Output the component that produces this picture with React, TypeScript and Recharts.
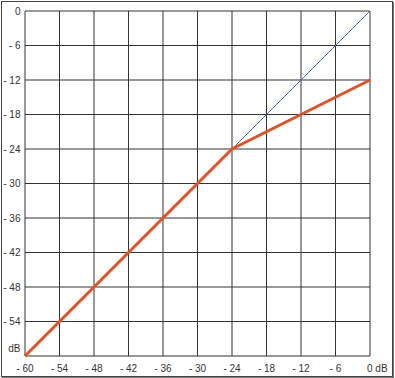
import { LineChart, Line, XAxis, YAxis, CartesianGrid } from "recharts";

// Compressor transfer curve: input level (x) vs output level (y), dB
const axisTicks = [-60, -54, -48, -42, -36, -30, -24, -18, -12, -6, 0];
const curveInput = [-60, -24, 0];
const curveOutput = [-60, -24, -12];
const unityInput = [-24, 0];
const unityOutput = [-24, 0];

const curveData = curveInput.map((x, i) => ({ x, y: curveOutput[i] }));
const unityData = unityInput.map((x, i) => ({ x, y: unityOutput[i] }));

const fmt = (v: number) => (v === 0 ? "0" : `- ${Math.abs(v)}`);

const textStyle = {
  fontFamily: "'Liberation Sans', Arial, sans-serif",
  fontSize: 10,
  fill: "#333",
};

const XTick = ({ x, y, payload }: any) => {
  const isZero = payload.value === 0;
  return (
    <text
      x={isZero ? x - 3 : x}
      y={y + 6}
      dy={3.5}
      textAnchor={isZero ? "start" : "middle"}
      {...textStyle}
    >
      {isZero ? "0 dB" : fmt(payload.value)}
    </text>
  );
};

const YTick = ({ y, payload }: any) => {
  const label = payload.value === -60 ? "dB" : fmt(payload.value);
  const shift = payload.value === -60 ? -8 : 0;
  return (
    <text x={20.5} y={y + shift} dy={3.5} textAnchor="end" {...textStyle}>
      {label}
    </text>
  );
};

export default function App() {
  return (
    <div
      style={{
        position: "absolute",
        left: 0,
        top: 0,
        width: 395,
        height: 378,
        background: "#fff",
      }}
    >
      <div
        style={{
          position: "absolute",
          left: 1,
          top: 1,
          width: 390,
          height: 374,
          border: "1px solid #444",
          boxShadow: "1px 1px 0 #777",
        }}
      />
      <LineChart
        width={395}
        height={378}
        margin={{ top: 11, right: 25, left: 0, bottom: 0 }}
        style={{ position: "absolute", left: 0, top: 0 }}
      >
        <CartesianGrid stroke="#333" strokeWidth={1} />
        <XAxis
          type="number"
          dataKey="x"
          domain={[-60, 0]}
          ticks={axisTicks}
          interval={0}
          axisLine={false}
          tickLine={false}
          height={22}
          tickMargin={0}
          tick={<XTick />}
        />
        <YAxis
          type="number"
          dataKey="y"
          domain={[-60, 0]}
          ticks={axisTicks}
          interval={0}
          axisLine={false}
          tickLine={false}
          width={25}
          tickMargin={0}
          tick={<YTick />}
        />
        <Line
          data={unityData}
          dataKey="y"
          type="linear"
          stroke="#4f6fa8"
          strokeWidth={1}
          dot={false}
          isAnimationActive={false}
        />
        <Line
          data={curveData}
          dataKey="y"
          type="linear"
          stroke="#e0532a"
          strokeWidth={3}
          dot={false}
          isAnimationActive={false}
        />
      </LineChart>
    </div>
  );
}
